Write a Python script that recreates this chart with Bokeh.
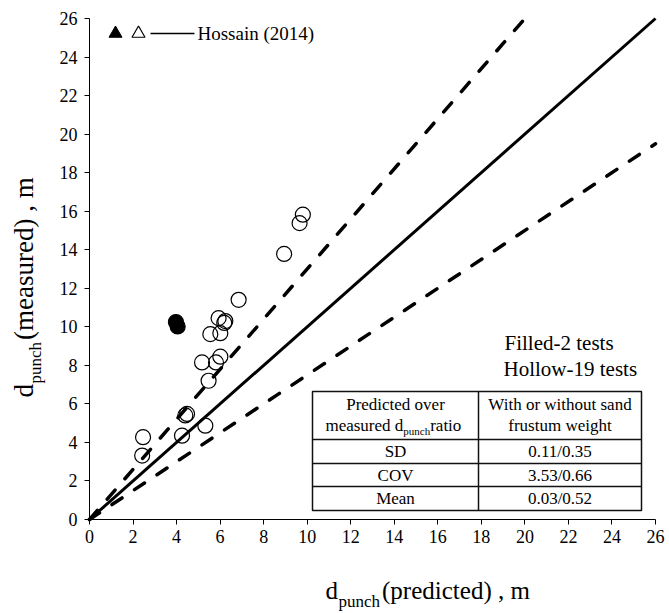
import math
from bokeh.plotting import figure
from bokeh.models import Range1d, FixedTicker, Label
from bokeh.embed import file_html
from bokeh.resources import INLINE

# ---------------- data ----------------
hollow_x = [6.85, 5.93, 6.24, 6.19, 5.55, 6.01, 5.17, 6.01, 5.81, 5.47,
            4.40, 4.48, 4.25, 5.32, 2.46, 2.42, 9.80, 9.65, 8.94]
hollow_y = [11.40, 10.45, 10.30, 10.20, 9.62, 9.67, 8.15, 8.45, 8.15, 7.20,
            5.40, 5.48, 4.35, 4.87, 4.27, 3.32, 15.82, 15.38, 13.78]
filled_x = [3.97, 4.05]
filled_y = [10.25, 10.02]

axis_max = 26
ticks = list(range(0, 27, 2))
upper_slope = 1.3
lower_slope = 0.75

table_rows = ["SD", "COV", "Mean"]
table_vals = ["0.11/0.35", "3.53/0.66", "0.03/0.52"]

FONT = "Liberation Serif"

# ---------------- layout (pixels) ----------------
W_PX, H_PX = 669, 613
L, R, T, B = 89, 655, 18, 519          # where the axes sit on the canvas
ux = (R - L) / axis_max                 # px per unit
uy = (B - T) / axis_max

# frame covers the whole canvas; axes are fixed at 0
p = figure(width=W_PX, height=H_PX, output_backend="svg", toolbar_location=None,
           x_range=Range1d(-L / ux, (W_PX - L) / ux),
           y_range=Range1d(-(H_PX - B) / uy, B / uy),
           min_border_left=0, min_border_right=0,
           min_border_top=0, min_border_bottom=0)
p.grid.visible = False
p.outline_line_color = None
p.background_fill_color = "white"
p.border_fill_color = "white"

for ax in (p.xaxis[0], p.yaxis[0]):
    ax.ticker = FixedTicker(ticks=ticks)
    ax.bounds = (0, axis_max)
    ax.fixed_location = 0
    ax.major_label_text_font = FONT
    ax.major_label_text_font_style = "normal"
    ax.major_label_text_font_size = "18px"
    ax.major_label_text_color = "black"
    ax.axis_line_color = "black"
    ax.axis_line_width = 1
    ax.major_tick_line_color = "black"
    ax.major_tick_in = 0
    ax.major_tick_out = 5
    ax.minor_tick_line_color = None
p.yaxis[0].major_label_standoff = 7
p.xaxis[0].major_label_standoff = 5


def dx(px):
    return (px - L) / ux


def dy(py):
    return (B - py) / uy


# Times metrics (Liberation Serif)
CW = {' ': .25, '(': .333, ')': .333, ',': .25, '.': .25, '/': .278, '-': .333,
      'a': .444, 'c': .444, 'd': .5, 'e': .444, 'h': .5, 'i': .278, 'm': .778,
      'n': .5, 'o': .5, 'p': .5, 'r': .333, 's': .389, 't': .278, 'u': .5,
      'v': .5, 'w': .722, 'l': .278, 'f': .333, 'g': .5}


def tw(text, size):
    return sum(CW.get(c, .5) for c in text) * size


def lbl(px, py, text, size, angle=0.0, align="left", baseline="middle"):
    p.add_layout(Label(x=dx(px), y=dy(py), text=text, text_font=FONT,
                       text_font_size=f"{size}px", text_color="black",
                       angle=angle, text_align=align, text_baseline=baseline))


# ---------------- reference lines ----------------
p.line([0, axis_max], [0, axis_max], line_color="black", line_width=3)
p.line([0, axis_max / upper_slope], [0, axis_max], line_color="black",
       line_width=3.5, line_dash="12 15", line_cap="round")
p.line([0, axis_max], [0, axis_max * lower_slope], line_color="black",
       line_width=3.5, line_dash="12 15", line_cap="round")

# ---------------- data points ----------------
p.scatter(hollow_x, hollow_y, marker="circle", size=15, fill_alpha=0,
          line_color="black", line_width=1.2)
p.scatter(filled_x, filled_y, marker="circle", size=15, fill_color="black",
          line_color="black", line_width=1.2)

# ---------------- legend (top-left) ----------------
p.scatter([dx(115)], [dy(33)], marker="triangle", size=13, fill_color="black",
          line_color="black")
p.scatter([dx(138)], [dy(33)], marker="triangle", size=13, fill_alpha=0,
          line_color="black", line_width=1.2)
p.line([dx(150), dx(194)], [dy(33), dy(33)], line_color="black", line_width=1.5)
lbl(197, 33, "Hossain (2014)", 19)

# ---------------- counts ----------------
lbl(504, 342, "Filled-2 tests", 21)
lbl(503, 368, "Hollow-19 tests", 21)

# ---------------- table ----------------
tl, tm, tr = 312, 478, 641
ty = [391, 439, 463, 486, 510]
p.quad(left=dx(tl), right=dx(tr), top=dy(ty[0]), bottom=dy(ty[-1]),
       fill_color="white", line_color="#111111", line_width=1.5)
p.segment(x0=[dx(tl)] * 3 + [dx(tm)], x1=[dx(tr)] * 3 + [dx(tm)],
          y0=[dy(v) for v in ty[1:4]] + [dy(ty[0])],
          y1=[dy(v) for v in ty[1:4]] + [dy(ty[-1])],
          line_color="#111111", line_width=1.5)
c1 = (tl + tm) / 2
c2 = (tm + tr) / 2
FS = 17
lbl(c1, 404, "Predicted over", FS, align="center")
parts = [("measured d", FS, 0), ("punch", 11, 5), (" ratio", FS, 0)]
total = sum(tw(t, s) for t, s, _ in parts)
x0 = c1 - total / 2
for t, s, sh in parts:
    lbl(x0, 425 + sh, t, s)
    x0 += tw(t, s)
lbl(c2, 404, "With or without sand", FS, align="center")
lbl(c2, 425, "frustum weight", FS, align="center")
for i, (name, val) in enumerate(zip(table_rows, table_vals)):
    mid = (ty[i + 1] + ty[i + 2]) / 2
    lbl(c1, mid, name, FS, align="center")
    lbl(c2, mid, val, FS, align="center")

# ---------------- axis titles ----------------
MF, SF = 25, 17
# x title
x0 = 325
lbl(x0, 590, "d", MF)
x0 += tw("d", MF) + 0.5
lbl(x0, 601, "punch", SF)
x0 += tw("punch", SF) + 2
lbl(x0, 590, "(predicted) , m", MF)

# y title (rotated)
YF = 27
y0 = 397
lbl(23, y0, "d", YF, angle=math.pi / 2)
y0 -= tw("d", YF) + 0.5
lbl(35, y0, "punch", SF, angle=math.pi / 2)
y0 -= tw("punch", SF) + 2
lbl(23, y0, "(measured) , m", YF, angle=math.pi / 2)

open("out.html", "w").write(file_html(p, INLINE))
